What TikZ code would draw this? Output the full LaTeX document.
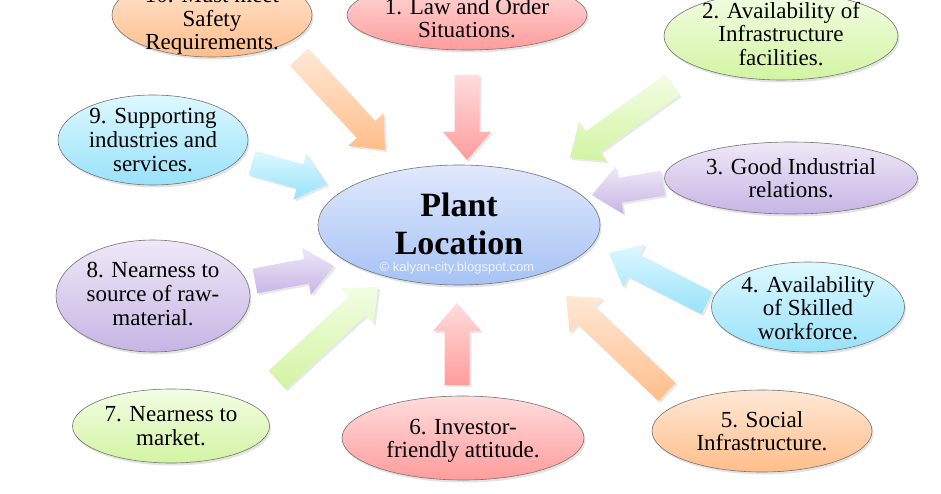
\documentclass[tikz,border=0pt]{standalone}
\usepackage{fontspec}
\setmainfont{Liberation Serif}
\newfontfamily\wmfont{Liberation Sans}
\usetikzlibrary{calc,shadows,shapes.geometric}
\definecolor{orT}{HTML}{FFE8D6}\definecolor{orB}{HTML}{FFBE8A}
\definecolor{pkT}{HTML}{FFDCDC}\definecolor{pkB}{HTML}{FF9C9C}
\definecolor{grT}{HTML}{F3FDE4}\definecolor{grB}{HTML}{D2F4A2}
\definecolor{cyT}{HTML}{DDF8FF}\definecolor{cyB}{HTML}{98E2FA}
\definecolor{puT}{HTML}{EFE8F7}\definecolor{puB}{HTML}{C6B5E5}
\definecolor{blT}{HTML}{E0E9FC}\definecolor{blB}{HTML}{A6C2F5}
\definecolor{wm}{HTML}{EDF2FD}
\tikzset{
  bub/.style={ellipse, draw=black!55, line width=0.6pt, inner sep=0pt,
    drop shadow={opacity=0.22, shadow xshift=1.5pt, shadow yshift=-2.5pt}},
  txt/.style={align=center, inner sep=0pt, font=\fontsize{23}{23.6}\selectfont},
  ashadow/.style={drop shadow={opacity=0.18, shadow xshift=2pt, shadow yshift=-2pt}},
}
\newcommand\blockarr[4]{%
  \path ($(#2)!28pt!(#1)$) coordinate (hb);
  \path[top color=#3, bottom color=#4, ashadow]
    ($(#1)!12.5pt!90:(#2)$) -- ($(hb)!12.5pt!90:(#2)$) -- ($(hb)!24pt!90:(#2)$)
    -- (#2) -- ($(hb)!24pt!-90:(#2)$) -- ($(hb)!12.5pt!-90:(#2)$)
    -- ($(#1)!12.5pt!-90:(#2)$) -- cycle;
}
\begin{document}
\begin{tikzpicture}[x=1pt,y=-1pt]
\useasboundingbox (0,0) rectangle (941,494);
\fill[white] (0,0) rectangle (941,494);
\clip (0,0) rectangle (941,494);

% arrow end points
\coordinate (a10t) at (299,57);  \coordinate (a10p) at (385,150);
\coordinate (a1t)  at (467,75);  \coordinate (a1p)  at (467,160);
\coordinate (a2t)  at (672,85);  \coordinate (a2p)  at (570,158);
\coordinate (a9t)  at (252,163); \coordinate (a9p)  at (327,184);
\coordinate (a3t)  at (663,183); \coordinate (a3p)  at (592,195);
\coordinate (a8t)  at (255,281); \coordinate (a8p)  at (334,266);
\coordinate (a4t)  at (707,303); \coordinate (a4p)  at (609,253);
\coordinate (a7t)  at (277,380); \coordinate (a7p)  at (378,287);
\coordinate (a6t)  at (457,385); \coordinate (a6p)  at (457,303);
\coordinate (a5t)  at (667,392); \coordinate (a5p)  at (566,296);

\blockarr{a10t}{a10p}{orT}{orB}
\blockarr{a1t}{a1p}{pkT}{pkB}
\blockarr{a2t}{a2p}{grT}{grB}
\blockarr{a9t}{a9p}{cyT}{cyB}
\blockarr{a3t}{a3p}{puT}{puB}
\blockarr{a8t}{a8p}{puT}{puB}
\blockarr{a4t}{a4p}{cyT}{cyB}
\blockarr{a7t}{a7p}{grT}{grB}
\blockarr{a6t}{a6p}{pkT}{pkB}
\blockarr{a5t}{a5p}{orT}{orB}

% centre
\node[bub, top color=blT, bottom color=blB, minimum width=282pt, minimum height=120pt] (c) at (459,225) {};
\node[align=center, inner sep=0pt, font=\fontsize{34}{38}\selectfont\bfseries] (ct) at (459,224) {Plant\\Location};
\node[inner sep=0pt, text=wm, font=\wmfont\fontsize{13}{13}\selectfont] (wmk) at (457,268) {© kalyan-city.blogspot.com};

% outer bubbles
\node[bub, top color=orT, bottom color=orB, minimum width=200pt, minimum height=84pt] (n10) at (212,15) {};
\node[txt] (t10) at (212,21) {10. Must meet\\Safety\\Requirements.};

\node[bub, top color=pkT, bottom color=pkB, minimum width=240pt, minimum height=70pt] (n1) at (467,15) {};
\node[txt] (t1) at (467,18) {1. Law and Order\\Situations.};

\node[bub, top color=grT, bottom color=grB, minimum width=234pt, minimum height=88pt] (n2) at (781,36) {};
\node[txt] (t2) at (781,34) {2. Availability of\\Infrastructure\\facilities.};

\node[bub, top color=cyT, bottom color=cyB, minimum width=190pt, minimum height=90pt] (n9) at (153,140) {};
\node[txt] (t9) at (153,140) {9. Supporting\\industries and\\services.};

\node[bub, top color=puT, bottom color=puB, minimum width=253pt, minimum height=72pt] (n3) at (791,178) {};
\node[txt] (t3) at (791,178) {3. Good Industrial\\relations.};

\node[bub, top color=puT, bottom color=puB, minimum width=194pt, minimum height=112pt] (n8) at (153,296) {};
\node[txt] (t8) at (153,294) {8. Nearness to\\source of raw-\\material.};

\node[bub, top color=cyT, bottom color=cyB, minimum width=193pt, minimum height=90pt] (n4) at (808,307) {};
\node[txt] (t4) at (808,308) {4. Availability\\of Skilled\\workforce.};

\node[bub, top color=grT, bottom color=grB, minimum width=197pt, minimum height=74pt] (n7) at (171,426) {};
\node[txt] (t7) at (171,426) {7. Nearness to\\market.};

\node[bub, top color=pkT, bottom color=pkB, minimum width=242pt, minimum height=84pt] (n6) at (463,438) {};
\node[txt] (t6) at (463,441) {6. Investor-\\friendly attitude.};

\node[bub, top color=orT, bottom color=orB, minimum width=220pt, minimum height=82pt] (n5) at (762,431) {};
\node[txt] (t5) at (762,431) {5. Social\\Infrastructure.};
\end{tikzpicture}
\end{document}
